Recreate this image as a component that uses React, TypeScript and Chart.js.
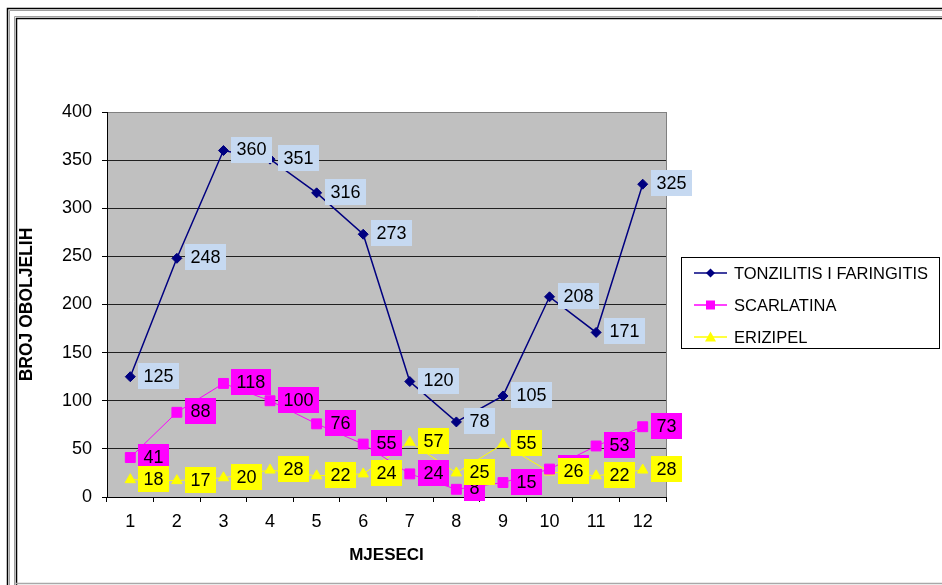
import React, { useEffect, useRef } from "react";
import { Chart, registerables } from "chart.js";

Chart.register(...registerables);

// ---- data ----
const months = ["1", "2", "3", "4", "5", "6", "7", "8", "9", "10", "11", "12"];
const tonzilitis = [125, 248, 360, 351, 316, 273, 120, 78, 105, 208, 171, 325];
const scarlatina = [41, 88, 118, 100, 76, 55, 24, 8, 15, 29, 53, 73];
const erizipel = [18, 17, 20, 28, 22, 24, 57, 25, 55, 26, 22, 28];
const seriesNames = ["TONZILITIS I FARINGITIS", "SCARLATINA", "ERIZIPEL"];
const yMin = 0;
const yMax = 400;
const yStep = 50;
const xTitle = "MJESECI";
const yTitle = "BROJ OBOLJELIH";

// ---- styles ----
const FONT = '"Liberation Sans", Arial, sans-serif';
const lineColors = ["#000080", "#FF00FF", "#FFFF00"];
const labelColors = ["#C6D9F1", "#FF00FF", "#FFFF00"];
const pointStyles = ["rectRot", "rect", "triangle"];

const framePlugin = {
  id: "frameAndBg",
  beforeDraw(chart: any) {
    const { ctx, chartArea } = chart;
    ctx.save();
    ctx.strokeStyle = "#000";
    ctx.lineWidth = 1.5;
    ctx.beginPath();
    ctx.moveTo(7.5, 600);
    ctx.lineTo(7.5, 8.5);
    ctx.lineTo(960, 8.5);
    ctx.stroke();
    ctx.strokeStyle = "#a0a0a0";
    ctx.lineWidth = 1;
    ctx.beginPath();
    ctx.moveTo(9.5, 600);
    ctx.lineTo(9.5, 10.5);
    ctx.lineTo(960, 10.5);
    ctx.stroke();
    ctx.strokeStyle = "#a0a0a0";
    ctx.beginPath();
    ctx.moveTo(14.5, 600);
    ctx.lineTo(14.5, 16.5);
    ctx.lineTo(960, 16.5);
    ctx.stroke();
    ctx.strokeStyle = "#000";
    ctx.lineWidth = 1.5;
    ctx.beginPath();
    ctx.moveTo(16.5, 600);
    ctx.lineTo(16.5, 18.5);
    ctx.lineTo(960, 18.5);
    ctx.stroke();
    ctx.strokeStyle = "#a8a8a8";
    ctx.lineWidth = 1.5;
    ctx.beginPath();
    ctx.moveTo(16, 583.5);
    ctx.lineTo(960, 583.5);
    ctx.stroke();
    ctx.fillStyle = "#C0C0C0";
    ctx.fillRect(chartArea.left, chartArea.top, chartArea.right - chartArea.left, chartArea.bottom - chartArea.top);
    ctx.restore();
  },
  beforeDatasetsDraw(chart: any) {
    const { ctx, chartArea } = chart;
    ctx.save();
    ctx.strokeStyle = "#808080";
    ctx.lineWidth = 1;
    ctx.beginPath();
    ctx.moveTo(chartArea.right + 0.5, chartArea.top);
    ctx.lineTo(chartArea.right + 0.5, chartArea.bottom);
    ctx.stroke();
    ctx.restore();
  },
};

const labelPlugin = {
  id: "valueLabels",
  afterDatasetsDraw(chart: any) {
    const ctx = chart.ctx;
    ctx.save();
    ctx.font = `18px ${FONT}`;
    ctx.textBaseline = "middle";
    ctx.textAlign = "left";
    chart.data.datasets.forEach((ds: any, i: number) => {
      const meta = chart.getDatasetMeta(i);
      meta.data.forEach((pt: any, j: number) => {
        const text = String(ds.data[j]);
        const w = ctx.measureText(text).width;
        const bx = Math.round(pt.x + 8);
        const by = Math.round(pt.y - 14);
        ctx.fillStyle = labelColors[i];
        ctx.fillRect(bx, by, Math.round(w + 11), 26);
        ctx.fillStyle = "#000";
        ctx.fillText(text, bx + 5.5, pt.y);
      });
    });
    ctx.restore();
  },
};

const legendPlugin = {
  id: "customLegend",
  afterDraw(chart: any) {
    const ctx = chart.ctx;
    ctx.save();
    const bx = 681, by = 257, bw = 258, bh = 91;
    ctx.fillStyle = "#fff";
    ctx.fillRect(bx, by, bw, bh);
    ctx.strokeStyle = "#000";
    ctx.lineWidth = 1;
    ctx.strokeRect(bx + 0.5, by + 0.5, bw, bh);
    const rows = [273, 305, 337];
    seriesNames.forEach((name, i) => {
      const y = rows[i];
      ctx.strokeStyle = lineColors[i];
      ctx.lineWidth = 1.5;
      ctx.beginPath();
      ctx.moveTo(694, y);
      ctx.lineTo(727, y);
      ctx.stroke();
      ctx.fillStyle = lineColors[i];
      const cx = 710.5;
      ctx.beginPath();
      if (i === 0) {
        ctx.moveTo(cx, y - 4.5);
        ctx.lineTo(cx + 4.5, y);
        ctx.lineTo(cx, y + 4.5);
        ctx.lineTo(cx - 4.5, y);
        ctx.closePath();
      } else if (i === 1) {
        ctx.rect(cx - 4.5, y - 4.5, 9, 9);
      } else {
        ctx.moveTo(cx, y - 5.5);
        ctx.lineTo(cx + 5.5, y + 4.5);
        ctx.lineTo(cx - 5.5, y + 4.5);
        ctx.closePath();
      }
      ctx.fill();
      ctx.fillStyle = "#000";
      ctx.font = `16.5px ${FONT}`;
      ctx.textBaseline = "middle";
      ctx.textAlign = "left";
      ctx.fillText(name, 734, y + 1);
    });
    ctx.restore();
  },
};

export default function App() {
  const ref = useRef<HTMLCanvasElement | null>(null);
  useEffect(() => {
    if (!ref.current) return;
    const series = [tonzilitis, scarlatina, erizipel];
    const radii = [5, 7, 6];
    const widths = [1.5, 1, 1];
    const chart = new Chart(ref.current, {
      type: "line",
      data: {
        labels: months,
        datasets: series.map((d, i) => ({
          label: seriesNames[i],
          data: d,
          borderColor: lineColors[i],
          backgroundColor: lineColors[i],
          borderWidth: widths[i],
          pointStyle: pointStyles[i] as any,
          pointRadius: radii[i],
          pointBackgroundColor: lineColors[i],
          pointBorderColor: lineColors[i],
          pointBorderWidth: 1,
          tension: 0,
          fill: false,
          clip: false as any,
        })),
      },
      options: {
        responsive: false,
        animation: false,
        devicePixelRatio: 1,
        layout: { padding: { top: 112, right: 942 - 666, left: 0, bottom: 0 } },
        plugins: {
          legend: { display: false },
          tooltip: { enabled: false },
        },
        scales: {
          x: {
            type: "category",
            offset: true,
            grid: {
              offset: true,
              drawOnChartArea: false,
              drawTicks: true,
              tickLength: 5,
              tickColor: "#000",
            },
            border: { display: true, color: "#000", width: 1 },
            ticks: {
              color: "#000",
              font: { family: FONT, size: 18 },
              padding: 9,
              maxRotation: 0,
            },
            title: {
              display: true,
              text: xTitle,
              color: "#000",
              font: { family: FONT, size: 17, weight: "bold" },
              padding: { top: 0, bottom: 19 },
            },
            afterFit(scale: any) {
              scale.height = 88;
            },
          },
          y: {
            min: yMin,
            max: yMax,
            ticks: {
              stepSize: yStep,
              color: "#000",
              font: { family: FONT, size: 18 },
              padding: 10,
            },
            grid: {
              color: (c: any) => (c.tick && c.tick.value === yMax ? "#808080" : "#202020"),
              tickColor: "#000",
              tickLength: 5,
              drawTicks: true,
              lineWidth: 1,
            },
            border: { display: true, color: "#000", width: 1 },
            title: {
              display: true,
              text: yTitle,
              color: "#000",
              font: { family: FONT, size: 17.5, weight: "bold" },
              padding: { top: 17, bottom: 0 },
            },
            afterFit(scale: any) {
              scale.width = 107;
            },
          },
        },
      },
      plugins: [framePlugin, labelPlugin, legendPlugin],
    });
    return () => chart.destroy();
  }, []);
  return (
    <div style={{ position: "absolute", left: 0, top: 0, width: 942, height: 585, background: "#fff" }}>
      <canvas ref={ref} width={942} height={585} style={{ display: "block" }} />
    </div>
  );
}
